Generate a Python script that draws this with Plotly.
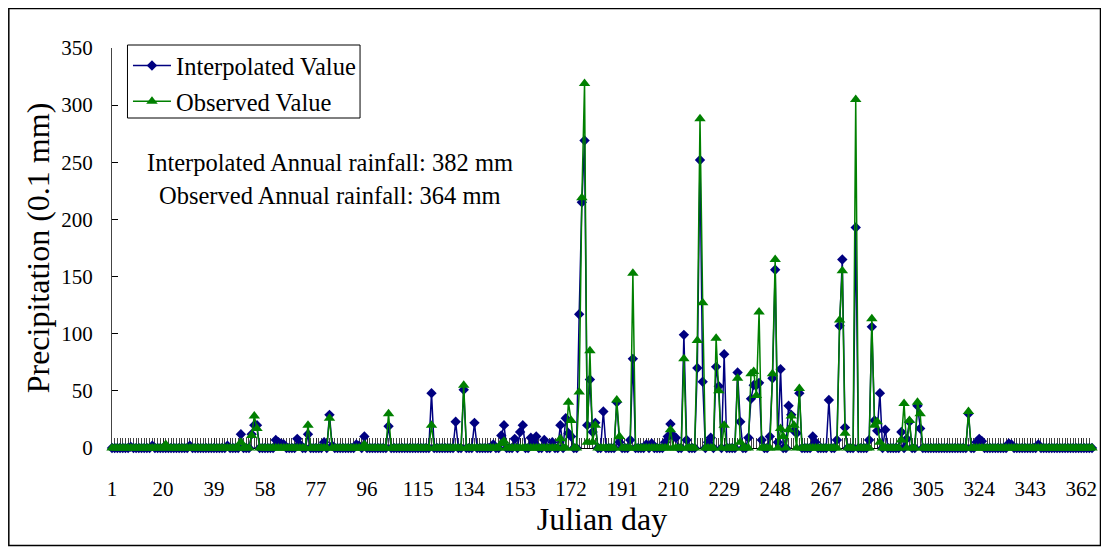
import plotly.graph_objects as go

n_days = 366
days = list(range(1, n_days + 1))

# Nonzero daily precipitation (0.1 mm); all other days are 0
interp_days = [8, 16, 30, 44, 49, 53, 54, 55, 62, 63, 64, 65, 70, 71, 74, 80, 82, 83, 92, 93, 95,
               104, 120, 129, 132, 136, 143, 146, 147, 151, 153, 154, 157, 158, 159, 162, 165,
               168, 170, 171, 172, 175, 176, 177, 178, 179, 180, 181, 184, 189, 190, 194, 195,
               200, 202, 207, 208, 209, 210, 211, 214, 215, 219, 220, 221, 223, 224, 226, 227,
               229, 234, 235, 238, 239, 240, 241, 242, 243, 246, 247, 248, 249, 250, 253, 254,
               255, 256, 257, 262, 263, 268, 271, 272, 273, 274, 278, 283, 284, 285, 286, 287,
               289, 295, 297, 298, 301, 302, 320, 323, 324, 325, 335, 336, 346]
interp_vals = [1, 2, 2, 2, 12, 12, 20, 20, 7, 5, 4, 3, 8, 3, 12, 5, 29, 2, 3, 2, 10,
               19, 48, 23, 51, 22, 3, 11, 20, 8, 14, 20, 9, 5, 10, 7, 5,
               20, 26, 13, 10, 117, 215, 269, 20, 60, 14, 22, 32, 40, 5, 7, 78,
               3, 4, 5, 10, 21, 11, 9, 99, 7, 70, 252, 58, 5, 9, 71, 54,
               82, 66, 23, 9, 43, 55, 55, 57, 7, 10, 61, 156, 5, 69, 37, 29,
               15, 13, 48, 10, 5, 42, 7, 107, 165, 18, 193, 7, 106, 24, 15, 48,
               16, 14, 8, 23, 37, 17, 30, 5, 8, 6, 4, 3, 3]

obs_days = [21, 49, 53, 54, 55, 74, 82, 95, 104, 120, 132, 146, 147, 168, 171, 172, 175, 176,
            177, 178, 179, 180, 181, 189, 190, 195, 209, 214, 219, 220, 221, 226, 227, 229,
            234, 235, 239, 240, 241, 242, 247, 248, 250, 251, 253, 254, 255, 257, 272, 273,
            274, 278, 284, 285, 286, 287, 295, 296, 298, 301, 302, 320]
obs_vals = [3, 5, 11, 28, 17, 20, 26, 3, 30, 20, 55, 4, 6, 8, 40, 24, 49, 219,
            319, 5, 85, 5, 20, 42, 10, 153, 16, 78, 94, 288, 127, 96, 50, 20,
            61, 5, 65, 67, 46, 119, 65, 165, 17, 10, 16, 28, 20, 52, 112, 155,
            13, 305, 113, 20, 23, 5, 7, 39, 24, 40, 30, 32]

x_tick_vals = list(range(1, 363, 19))
x_tick_text = [str(v) for v in x_tick_vals]
y_tick_vals = [0, 50, 100, 150, 200, 250, 300, 350]

interp = [0] * n_days
for d, v in zip(interp_days, interp_vals):
    interp[d - 1] = v
obs = [0] * n_days
for d, v in zip(obs_days, obs_vals):
    obs[d - 1] = v

FONT = "Liberation Serif"

fig = go.Figure()
fig.add_trace(go.Scatter(
    x=days, y=interp, name="Interpolated Value", mode="lines+markers",
    line=dict(color="#000080", width=1.5),
    marker=dict(symbol="diamond", size=8, color="#000080"),
    cliponaxis=False, legendgroup="a"))
fig.add_trace(go.Scatter(
    x=days, y=obs, name="Observed Value", mode="lines+markers",
    line=dict(color="#008000", width=1.5),
    marker=dict(symbol="triangle-up", size=10, color="#008000"),
    cliponaxis=False, legendgroup="b"))

fig.update_layout(
    width=1101, height=539,
    margin=dict(l=104, r=17, t=40, b=99, autoexpand=False),
    paper_bgcolor="white", plot_bgcolor="white",
    font=dict(family=FONT, size=21, color="black"),
    showlegend=True,
    legend=dict(x=0.0163, y=1.0125, xanchor="left", yanchor="top",
                borderwidth=0, bgcolor="rgba(0,0,0,0)", itemwidth=38,
                font=dict(family=FONT, size=24.5), tracegroupgap=1),
    xaxis=dict(range=[1, 366], tickmode="array", tickvals=x_tick_vals, ticktext=x_tick_text,
               ticks="inside", ticklen=10, tickcolor="#222", tickwidth=1,
               minor=dict(tickmode="linear", tick0=1, dtick=1, ticks="inside", ticklen=10,
                          tickcolor="#444", tickwidth=1),
               showline=True, linecolor="black", linewidth=1, showgrid=False, zeroline=False,
               layer="below traces",
               ticklabelstandoff=22, automargin=False,
               tickfont=dict(family=FONT, size=21),
               title=dict(text="Julian day", font=dict(family=FONT, size=32), standoff=6)),
    yaxis=dict(range=[0, 350], tickvals=y_tick_vals,
               ticks="inside", ticklen=6, tickcolor="black",
               showline=True, linecolor="#444", linewidth=1, showgrid=False, zeroline=False,
               layer="below traces",
               ticklabelstandoff=14, automargin=False,
               tickfont=dict(family=FONT, size=21),
               title=dict(text="Precipitation (0.1 mm)", font=dict(family=FONT, size=32), standoff=2)),
    annotations=[
        dict(x=0.2224, y=0.715, xref="paper", yref="paper", showarrow=False,
             xanchor="center", yanchor="middle",
             text="Interpolated Annual rainfall: 382 mm", font=dict(family=FONT, size=24.5)),
        dict(x=0.2224, y=0.6325, xref="paper", yref="paper", showarrow=False,
             xanchor="center", yanchor="middle",
             text="Observed Annual rainfall: 364 mm", font=dict(family=FONT, size=24.5)),
    ],
    shapes=[
        dict(type="rect", xref="paper", yref="paper",
             x0=-0.1053, x1=1.00867, y0=-0.24375, y1=1.09875,
             line=dict(color="black", width=1.5), fillcolor="rgba(0,0,0,0)"),
        dict(type="rect", xref="paper", yref="paper", layer="above",
             x0=0.0158, x1=0.2531, y0=0.825, y1=1.0075,
             line=dict(color="black", width=1), fillcolor="rgba(0,0,0,0)"),
    ],
)

fig.write_html("out.html")
